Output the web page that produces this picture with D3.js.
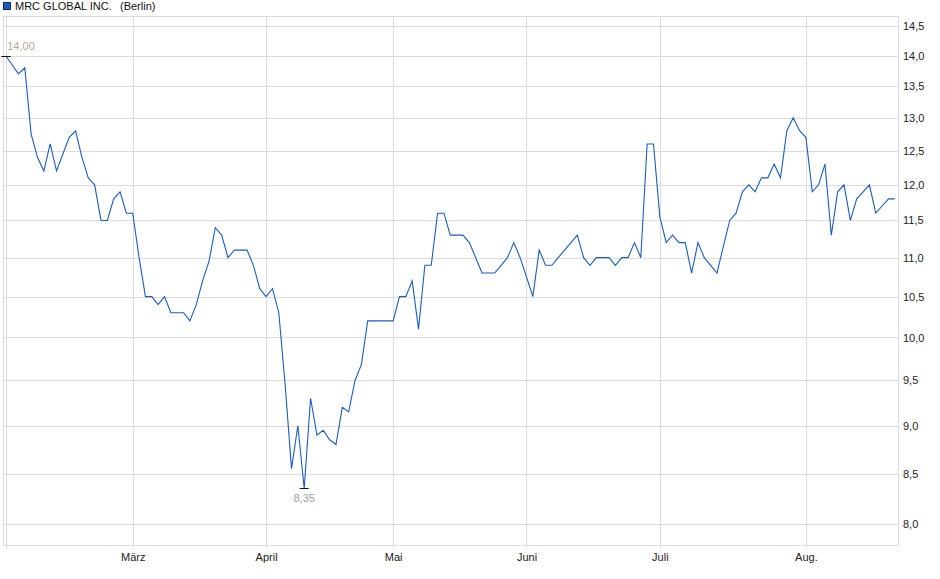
<!DOCTYPE html>
<html>
<head>
<meta charset="utf-8">
<script src="https://cdn.jsdelivr.net/npm/d3@7"></script>
<style>
    body { margin: 0; background: #fff; }
    svg { display: block; font-family: Arial, "Liberation Sans", sans-serif; }
    .grid line { stroke: #dcdcdc; shape-rendering: crispEdges; }
    .axis text { font-size: 11px; fill: #222; }
    .axis path, .axis line { stroke: #dcdcdc; shape-rendering: crispEdges; }
</style>
</head>
<body>
<svg id="chart"></svg>
<script>
// trading day index -> closing price (Berlin), Feb to late Aug
const prices = [
    14.0, 13.85, 13.7, 13.8, 12.75, 12.4, 12.2, 12.6, 12.2, 12.45,
    12.7, 12.8, 12.4, 12.1, 12.0, 11.5, 11.5, 11.8, 11.9, 11.6,
    11.6, 11.0, 10.5, 10.5, 10.4, 10.5, 10.3, 10.3, 10.3, 10.2,
    10.4, 10.7, 10.95, 11.4, 11.3, 11.0, 11.1, 11.1, 11.1, 10.9,
    10.6, 10.5, 10.6, 10.3, 9.45, 8.55, 9.0, 8.35, 9.3, 8.9,
    8.95, 8.85, 8.8, 9.2, 9.15, 9.5, 9.68, 10.2, 10.2, 10.2,
    10.2, 10.2, 10.5, 10.5, 10.7, 10.1, 10.9, 10.9, 11.6, 11.6,
    11.3, 11.3, 11.3, 11.2, 11.0, 10.8, 10.8, 10.8, 10.9, 11.0,
    11.2, 11.0, 10.75, 10.5, 11.1, 10.9, 10.9, 11.0, 11.1, 11.2,
    11.3, 11.0, 10.9, 11.0, 11.0, 11.0, 10.9, 11.0, 11.0, 11.2,
    11.0, 12.6, 12.6, 11.55, 11.2, 11.3, 11.2, 11.2, 10.8, 11.2,
    11.0, 10.9, 10.8, 11.15, 11.5, 11.6, 11.9, 12.0, 11.9, 12.1,
    12.1, 12.3, 12.1, 12.8, 13.0, 12.8, 12.7, 11.9, 12.0, 12.3,
    11.3, 11.9, 12.0, 11.5, 11.8, 11.9, 12.0, 11.6, 11.7, 11.8,
    11.8
];

// first trading day of each month (index into prices)
const monthStarts = [0, 20, 41, 61, 82, 103, 126];
const monthLabels = ["", "März", "April", "Mai", "Juni", "Juli", "Aug."];

const priceTicks = [8.0, 8.5, 9.0, 9.5, 10.0, 10.5, 11.0, 11.5, 12.0, 12.5, 13.0, 13.5, 14.0, 14.5];

const title = "MRC GLOBAL INC.";
const exchange = "(Berlin)";

const width = 940, height = 579;
const margin = { top: 16, right: 42, bottom: 34, left: 3 };
const innerW = width - margin.left - margin.right;
const innerH = height - margin.top - margin.bottom;

const svg = d3.select("#chart")
    .attr("width", width)
    .attr("height", height);

const g = svg.append("g")
    .attr("transform", "translate(" + margin.left + "," + margin.top + ")");

let x = d3.scaleLinear()
    .domain([-0.43, 140.5])
    .range([0, innerW]);

let y = d3.scaleLog()
    .domain([7.805, 14.68])
    .range([innerH, 0]);

const fmt = d3.format(".1f");
const deFmt = v => fmt(v).replace(".", ",");

// horizontal grid
g.append("g")
    .attr("class", "grid")
    .selectAll("line")
    .data(priceTicks)
    .enter().append("line")
    .attr("x1", 0)
    .attr("x2", innerW)
    .attr("y1", d => Math.round(y(d)) + 0.5)
    .attr("y2", d => Math.round(y(d)) + 0.5);

// vertical grid at month starts
g.append("g")
    .attr("class", "grid")
    .selectAll("line")
    .data(monthStarts)
    .enter().append("line")
    .attr("x1", d => Math.round(x(d)) + 0.5)
    .attr("x2", d => Math.round(x(d)) + 0.5)
    .attr("y1", 0)
    .attr("y2", innerH + 4);

// frame
g.append("rect")
    .attr("x", 0.5)
    .attr("y", 0.5)
    .attr("width", innerW)
    .attr("height", innerH)
    .attr("fill", "none")
    .attr("stroke", "#dcdcdc")
    .attr("shape-rendering", "crispEdges");

// right axis
let yAxis = d3.axisRight(y)
    .tickValues(priceTicks)
    .tickSize(0)
    .tickFormat(deFmt);

g.append("g")
    .attr("class", "axis")
    .attr("transform", "translate(" + innerW + ",0)")
    .call(yAxis)
    .call(a => a.select(".domain").remove())
    .selectAll("text")
    .attr("x", 5);

// bottom axis
let xAxis = d3.axisBottom(x)
    .tickValues(monthStarts.slice(1))
    .tickSize(0)
    .tickFormat((d, i) => monthLabels[i + 1]);

g.append("g")
    .attr("class", "axis")
    .attr("transform", "translate(0," + innerH + ")")
    .call(xAxis)
    .call(a => a.select(".domain").remove())
    .selectAll("text")
    .attr("y", 8);

// price line
const line = d3.line()
    .x((d, i) => x(i))
    .y(d => y(d));

g.append("path")
    .datum(prices)
    .attr("fill", "none")
    .attr("stroke", "#1c5bc6")
    .attr("stroke-width", 1.1)
    .attr("d", line);

// high / low markers
const hiIdx = d3.maxIndex(prices);
const loIdx = d3.minIndex(prices);

g.append("line")
    .attr("x1", x(hiIdx) - 4.5)
    .attr("x2", x(hiIdx) + 5)
    .attr("y1", Math.round(y(prices[hiIdx])) + 0.5)
    .attr("y2", Math.round(y(prices[hiIdx])) + 0.5)
    .attr("stroke", "#111");

g.append("text")
    .attr("x", x(hiIdx) + 1.5)
    .attr("y", y(prices[hiIdx]) - 6)
    .style("font-size", "11px")
    .attr("fill", "#b3a99c")
    .text(d3.format(".2f")(prices[hiIdx]).replace(".", ","));

g.append("line")
    .attr("x1", x(loIdx) - 4.5)
    .attr("x2", x(loIdx) + 4.5)
    .attr("y1", Math.round(y(prices[loIdx])) + 0.5)
    .attr("y2", Math.round(y(prices[loIdx])) + 0.5)
    .attr("stroke", "#111");

g.append("text")
    .attr("x", x(loIdx))
    .attr("y", y(prices[loIdx]) + 14)
    .attr("text-anchor", "middle")
    .style("font-size", "11px")
    .attr("fill", "#9da0a8")
    .text(d3.format(".2f")(prices[loIdx]).replace(".", ","));

// legend
svg.append("rect")
    .attr("x", 3.5)
    .attr("y", 2.5)
    .attr("width", 7)
    .attr("height", 7)
    .attr("fill", "#1c5bc6")
    .attr("stroke", "#0d2f6e");

svg.append("text")
    .attr("x", 15)
    .attr("y", 10)
    .style("font-size", "11px")
    .attr("fill", "#111")
    .text(title);

svg.append("text")
    .attr("x", 120)
    .attr("y", 10)
    .style("font-size", "11px")
    .attr("fill", "#111")
    .text(exchange);
</script>
</body>
</html>
